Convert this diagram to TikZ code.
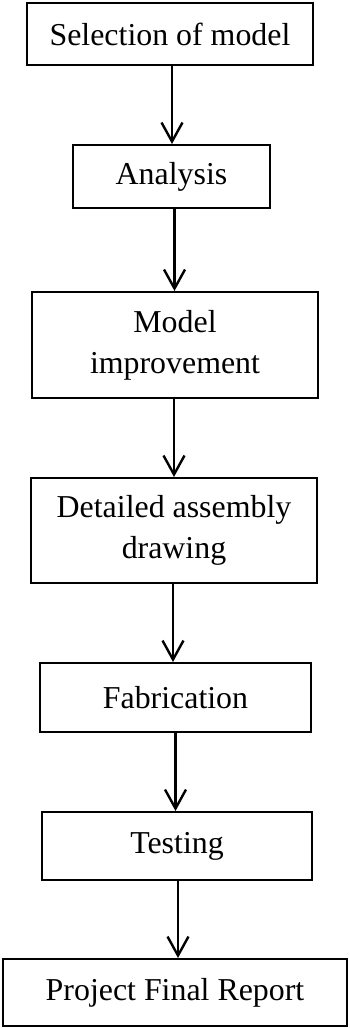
\documentclass[tikz,border=0pt]{standalone}
\usepackage{fontspec}
\setmainfont{Liberation Serif}
\usetikzlibrary{arrows.meta}

\begin{document}
\begin{tikzpicture}[
  x=1bp,
  y=-1bp,
  line cap=butt,
  line join=miter,
  stage/.style={draw=black, line width=2bp, fill=white, inner sep=0, align=center,
    font=\fontsize{32}{41}\selectfont},
  arrow/.style={draw=black, line width=2.4bp, -{Straight Barb[length=19bp,width=21bp,line width=2.4bp]}}
]
\path[use as bounding box] (0,0) rectangle (349,1028);
\fill[white] (0,0) rectangle (349,1028);

% Stages
\node[stage, minimum width=286bp, minimum height=62bp] (select) at (170,34)
  {Selection of model};
\node[stage, minimum width=197bp, minimum height=63bp] (analysis) at (171.5,176.5)
  {Analysis};
\node[stage, minimum width=286bp, minimum height=106bp] (improve) at (175,345)
  {Model\\improvement};
\node[stage, minimum width=286bp, minimum height=105bp] (assembly) at (174,530.5)
  {Detailed assembly\\drawing};
\node[stage, minimum width=271bp, minimum height=69bp] (fabric) at (175.5,697.5)
  {Fabrication};
\node[stage, minimum width=270bp, minimum height=68bp] (testing) at (177,846)
  {Testing};
\node[stage, minimum width=344bp, minimum height=67bp] (report) at (175,992.5)
  {Project Final Report};

% Connections
\draw[arrow] ([xshift=2bp]select.south) -- ([xshift=2bp]select.south |- analysis.north);
\draw[arrow] ([xshift=3bp]analysis.south) -- ([xshift=3bp]analysis.south |- improve.north);
\draw[arrow] ([xshift=-1bp]improve.south) -- ([xshift=-1bp]improve.south |- assembly.north);
\draw[arrow] ([xshift=-1bp]assembly.south) -- ([xshift=-1bp]assembly.south |- fabric.north);
\draw[arrow] (fabric.south) -- (fabric.south |- testing.north);
\draw[arrow] ([xshift=1bp]testing.south) -- ([xshift=1bp]testing.south |- report.north);

\end{tikzpicture}
\end{document}
